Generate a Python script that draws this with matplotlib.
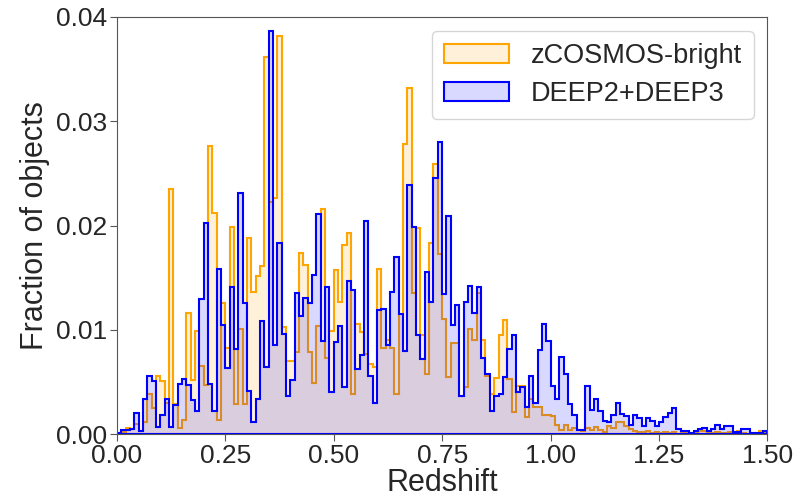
import matplotlib
matplotlib.use("Agg")
import matplotlib.pyplot as plt
import numpy as np
import seaborn as sns

# 0.01-wide redshift bins from 0 to 1.5
edges = np.round(np.arange(0, 1.5001, 0.01), 2)
centers = 0.5 * (edges[:-1] + edges[1:])

zcosmos = [
    0.0, 0.0002, 0.0006, 0.0005, 0.001, 0.0003, 0.0012, 0.0038, 0.0025, 0.0056,
    0.0051, 0.003, 0.0235, 0.0029, 0.0006, 0.0014, 0.0116, 0.0052, 0.0099, 0.0065,
    0.0047, 0.0276, 0.0212, 0.0014, 0.0126, 0.0083, 0.0199, 0.0029, 0.0101, 0.0029,
    0.0188, 0.0136, 0.0152, 0.0161, 0.0362, 0.0223, 0.0226, 0.0382, 0.0103, 0.007,
    0.007, 0.0079, 0.0174, 0.0162, 0.0079, 0.0049, 0.0104, 0.0216, 0.0073, 0.0099,
    0.0157, 0.0127, 0.0181, 0.0193, 0.0038, 0.0106, 0.0098, 0.0077, 0.0067, 0.0064,
    0.0158, 0.0083, 0.009, 0.0083, 0.0038, 0.0115, 0.0278, 0.0332, 0.0135, 0.0198,
    0.0095, 0.0058, 0.0183, 0.0259, 0.0173, 0.011, 0.0055, 0.0087, 0.0087, 0.0037,
    0.0045, 0.0101, 0.009, 0.0135, 0.009, 0.0056, 0.0038, 0.0054, 0.0095, 0.0109,
    0.0053, 0.0021, 0.0046, 0.0046, 0.0016, 0.0034, 0.0026, 0.0026, 0.0018, 0.0018,
    0.0017, 0.0009, 0.0004, 0.0009, 0.0004, 0.0006, 0.0004, 0.0003, 0.0006, 0.0004,
    0.0007, 0.0004, 0.0002, 0.0008, 0.0006, 0.0012, 0.0012, 0.0008, 0.0005, 0.0003,
    0.0002, 0.0002, 0.0003, 0.0001, 0.0002, 0.0001, 0.0002, 0.0001, 0.0002, 0.0,
    0.0001, 0.0001, 0.0, 0.0002, 0.0003, 0.0003, 0.0001, 0.0001, 0.0002, 0.0001,
    0.0001, 0.0002, 0.0001, 0.0003, 0.0001, 0.0, 0.0001, 0.0001, 0.0003, 0.0001,
]

deep23 = [
    0.0001, 0.0004, 0.0004, 0.0005, 0.002, 0.0003, 0.0034, 0.0056, 0.0051, 0.0007,
    0.0018, 0.0034, 0.0007, 0.0028, 0.0048, 0.0053, 0.0047, 0.0033, 0.0022, 0.013,
    0.0202, 0.0048, 0.0022, 0.0158, 0.0105, 0.0063, 0.0141, 0.0082, 0.0231, 0.0126,
    0.0041, 0.0012, 0.0034, 0.0108, 0.0064, 0.0387, 0.0085, 0.0183, 0.0096, 0.0037,
    0.0052, 0.0135, 0.0113, 0.0131, 0.0126, 0.0153, 0.0211, 0.0089, 0.0141, 0.004,
    0.0088, 0.0104, 0.0045, 0.0147, 0.0138, 0.0062, 0.0076, 0.0204, 0.0056, 0.003,
    0.0119, 0.012, 0.0085, 0.0136, 0.017, 0.0115, 0.008, 0.0239, 0.0199, 0.0095,
    0.0072, 0.0155, 0.0127, 0.0246, 0.028, 0.0134, 0.0209, 0.0105, 0.0124, 0.0037,
    0.0127, 0.0142, 0.0116, 0.0141, 0.0073, 0.0058, 0.0022, 0.0037, 0.0038, 0.0055,
    0.0082, 0.0095, 0.004, 0.0045, 0.0026, 0.0056, 0.003, 0.0081, 0.0106, 0.0089,
    0.0046, 0.0034, 0.0074, 0.0058, 0.0029, 0.0018, 0.0004, 0.0004, 0.0046, 0.0023,
    0.0034, 0.0022, 0.0013, 0.0012, 0.0018, 0.003, 0.0019, 0.0017, 0.0009, 0.0018,
    0.0015, 0.0008, 0.0015, 0.0013, 0.0008, 0.0012, 0.0016, 0.002, 0.0025, 0.0005,
    0.0003, 0.0003, 0.0001, 0.0003, 0.0005, 0.0006, 0.0003, 0.0005, 0.0009, 0.0005,
    0.0008, 0.0008, 0.0002, 0.0002, 0.0005, 0.0005, 0.0001, 0.0001, 0.0001, 0.0003,
]

sns.set_style("ticks")
plt.rcParams['font.family'] = ['Liberation Sans', 'DejaVu Sans']

fig = plt.figure(figsize=(8.12, 4.99), dpi=100)
ax = fig.add_axes([0.144, 0.130, 0.801, 0.836])

ax.hist(centers, bins=edges, weights=zcosmos, histtype='stepfilled',
        facecolor=(1.0, 0.647, 0.0, 0.15), edgecolor='orange', linewidth=1.5,
        label='zCOSMOS-bright')
ax.hist(centers, bins=edges, weights=deep23, histtype='stepfilled',
        facecolor=(0.0, 0.0, 1.0, 0.15), edgecolor='blue', linewidth=1.5,
        label='DEEP2+DEEP3')

ax.set_xlim(0, 1.5)
ax.set_ylim(0, 0.04)
ax.set_xticks(np.arange(0, 1.51, 0.25))
ax.set_yticks(np.arange(0, 0.041, 0.01))
ax.xaxis.set_major_formatter(matplotlib.ticker.FormatStrFormatter('%.2f'))
ax.yaxis.set_major_formatter(matplotlib.ticker.FormatStrFormatter('%.2f'))
ax.tick_params(labelsize=19, length=5, color='#555555', pad=2)
for s in ax.spines.values():
    s.set_color('#555555')

ax.set_xlabel('Redshift', fontsize=22, labelpad=0)
ax.set_ylabel('Fraction of objects', fontsize=22, labelpad=4)
ax.legend(loc='upper right', fontsize=19.5, handlelength=2.4, borderpad=0.45,
          labelspacing=0.45, handletextpad=0.8)

fig.savefig('out.png', dpi=100)
